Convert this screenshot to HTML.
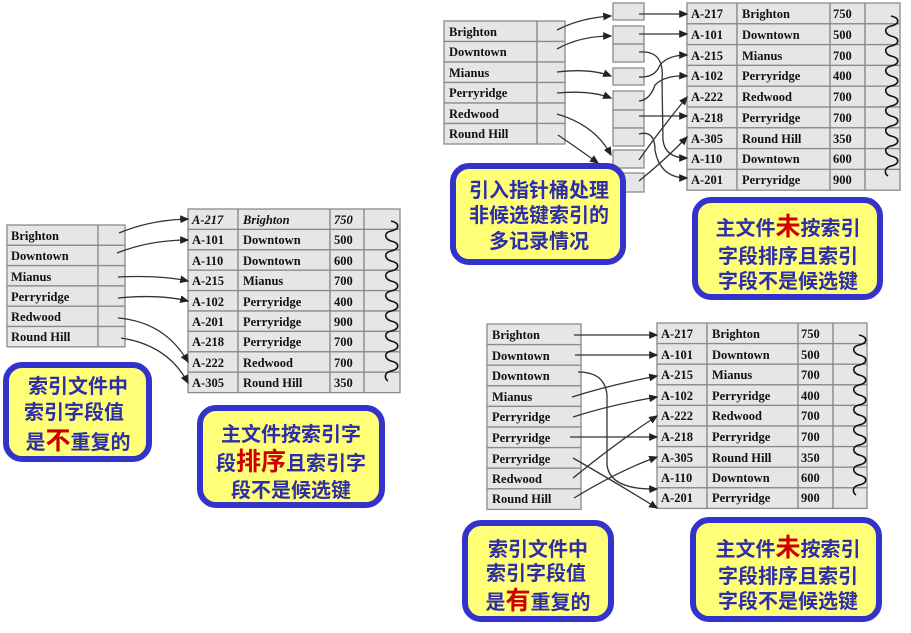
<!DOCTYPE html>
<html><head><meta charset="utf-8"><style>
html,body{margin:0;padding:0;background:#fff;}
svg{display:block;}
.t{font-family:"Liberation Serif",serif;font-weight:bold;font-size:12.5px;fill:#111;}
.c{font-family:"Liberation Sans","Noto Sans CJK SC",sans-serif;font-weight:bold;font-size:20px;fill:#2e2ea8;}
.r{fill:#cc0000;font-size:25px;}
.cell{fill:#e6e6e6;stroke:#8a8a8a;stroke-width:1.3;}
.ln{fill:none;stroke:#333;stroke-width:1.3;}
.w{fill:none;stroke:#111;stroke-width:1.6;}
</style></head><body>
<svg width="911" height="633" viewBox="0 0 911 633" xmlns="http://www.w3.org/2000/svg">
<defs><marker id="a" markerWidth="7" markerHeight="7" refX="6" refY="3.5" orient="auto"><path d="M0,0.5 L7,3.5 L0,6.5z" fill="#222"/></marker>
<path id="wv" class="w" d="M0,0 c9,2 9,8 0,10 c-8,2 -6,8 0,10 c9,2 9,8 0,10 c-8,2 -6,8 0,10 c9,2 9,8 0,10 c-8,2 -6,8 0,10 c9,2 9,8 0,10 c-8,2 -6,8 0,10 c9,2 9,8 0,10 c-8,2 -6,8 0,10 c9,2 9,8 0,10 c-8,2 -6,8 0,10 c9,2 9,8 0,10 c-8,2 -6,8 0,10 c9,2 9,8 0,10 c-8,2 -6,8 -3,10"/>
</defs>

<!-- ===== Diagram 1 ===== -->
<g>
<rect class="cell" x="7" y="225" width="91" height="20.3"/><rect class="cell" x="98" y="225" width="27" height="20.3"/>
<rect class="cell" x="7" y="245.3" width="91" height="20.3"/><rect class="cell" x="98" y="245.3" width="27" height="20.3"/>
<rect class="cell" x="7" y="265.6" width="91" height="20.3"/><rect class="cell" x="98" y="265.6" width="27" height="20.3"/>
<rect class="cell" x="7" y="285.9" width="91" height="20.3"/><rect class="cell" x="98" y="285.9" width="27" height="20.3"/>
<rect class="cell" x="7" y="306.2" width="91" height="20.3"/><rect class="cell" x="98" y="306.2" width="27" height="20.3"/>
<rect class="cell" x="7" y="326.5" width="91" height="20.3"/><rect class="cell" x="98" y="326.5" width="27" height="20.3"/>
<text class="t" x="11" y="240">Brighton</text><text class="t" x="11" y="260">Downtown</text><text class="t" x="11" y="281">Mianus</text>
<text class="t" x="11" y="301">Perryridge</text><text class="t" x="11" y="321">Redwood</text><text class="t" x="11" y="341">Round Hill</text>
</g>
<g>
<g transform="translate(188,209)">
<rect class="cell" x="0" y="0" width="50" height="20.4"/><rect class="cell" x="50" y="0" width="92" height="20.4"/><rect class="cell" x="142" y="0" width="34" height="20.4"/><rect class="cell" x="176" y="0" width="36" height="20.4"/>
<rect class="cell" x="0" y="20.4" width="50" height="20.4"/><rect class="cell" x="50" y="20.4" width="92" height="20.4"/><rect class="cell" x="142" y="20.4" width="34" height="20.4"/><rect class="cell" x="176" y="20.4" width="36" height="20.4"/>
<rect class="cell" x="0" y="40.8" width="50" height="20.4"/><rect class="cell" x="50" y="40.8" width="92" height="20.4"/><rect class="cell" x="142" y="40.8" width="34" height="20.4"/><rect class="cell" x="176" y="40.8" width="36" height="20.4"/>
<rect class="cell" x="0" y="61.2" width="50" height="20.4"/><rect class="cell" x="50" y="61.2" width="92" height="20.4"/><rect class="cell" x="142" y="61.2" width="34" height="20.4"/><rect class="cell" x="176" y="61.2" width="36" height="20.4"/>
<rect class="cell" x="0" y="81.6" width="50" height="20.4"/><rect class="cell" x="50" y="81.6" width="92" height="20.4"/><rect class="cell" x="142" y="81.6" width="34" height="20.4"/><rect class="cell" x="176" y="81.6" width="36" height="20.4"/>
<rect class="cell" x="0" y="102" width="50" height="20.4"/><rect class="cell" x="50" y="102" width="92" height="20.4"/><rect class="cell" x="142" y="102" width="34" height="20.4"/><rect class="cell" x="176" y="102" width="36" height="20.4"/>
<rect class="cell" x="0" y="122.4" width="50" height="20.4"/><rect class="cell" x="50" y="122.4" width="92" height="20.4"/><rect class="cell" x="142" y="122.4" width="34" height="20.4"/><rect class="cell" x="176" y="122.4" width="36" height="20.4"/>
<rect class="cell" x="0" y="142.8" width="50" height="20.4"/><rect class="cell" x="50" y="142.8" width="92" height="20.4"/><rect class="cell" x="142" y="142.8" width="34" height="20.4"/><rect class="cell" x="176" y="142.8" width="36" height="20.4"/>
<rect class="cell" x="0" y="163.2" width="50" height="20.4"/><rect class="cell" x="50" y="163.2" width="92" height="20.4"/><rect class="cell" x="142" y="163.2" width="34" height="20.4"/><rect class="cell" x="176" y="163.2" width="36" height="20.4"/>
<g class="t">
<text x="4" y="15" font-style="italic">A-217</text><text x="55" y="15" font-style="italic">Brighton</text><text x="146" y="15" font-style="italic">750</text>
<text x="4" y="35">A-101</text><text x="55" y="35">Downtown</text><text x="146" y="35">500</text>
<text x="4" y="56">A-110</text><text x="55" y="56">Downtown</text><text x="146" y="56">600</text>
<text x="4" y="76">A-215</text><text x="55" y="76">Mianus</text><text x="146" y="76">700</text>
<text x="4" y="97">A-102</text><text x="55" y="97">Perryridge</text><text x="146" y="97">400</text>
<text x="4" y="117">A-201</text><text x="55" y="117">Perryridge</text><text x="146" y="117">900</text>
<text x="4" y="137">A-218</text><text x="55" y="137">Perryridge</text><text x="146" y="137">700</text>
<text x="4" y="158">A-222</text><text x="55" y="158">Redwood</text><text x="146" y="158">700</text>
<text x="4" y="178">A-305</text><text x="55" y="178">Round Hill</text><text x="146" y="178">350</text>
</g>
<use href="#wv" x="203" y="12"/>
</g>
<path class="ln" marker-end="url(#a)" d="M119,233 Q150,220 188,219"/>
<path class="ln" marker-end="url(#a)" d="M117,253 Q150,240 188,240"/>
<path class="ln" marker-end="url(#a)" d="M118,277 Q160,275 188,281"/>
<path class="ln" marker-end="url(#a)" d="M118,298 Q160,294 188,301"/>
<path class="ln" marker-end="url(#a)" d="M118,318 Q165,322 188,362"/>
<path class="ln" marker-end="url(#a)" d="M121,338 Q168,345 188,383"/>
</g>
<rect x="6" y="365" width="143" height="94" rx="16" fill="#ffff77" stroke="#3333cc" stroke-width="6"/>
<text class="c" x="78" y="393" text-anchor="middle">索引文件中</text>
<text class="c" x="74" y="419" text-anchor="middle">索引字段值</text>
<text class="c" x="78" y="449" text-anchor="middle">是<tspan class="r">不</tspan>重复的</text>
<rect x="200" y="408" width="182" height="97" rx="16" fill="#ffff77" stroke="#3333cc" stroke-width="6"/>
<text class="c" x="291" y="441" text-anchor="middle">主文件按索引字</text>
<text class="c" x="291" y="470" text-anchor="middle">段<tspan class="r">排序</tspan>且索引字</text>
<text class="c" x="291" y="497" text-anchor="middle">段不是候选键</text>

<!-- ===== Diagram 2 ===== -->
<g>
<rect class="cell" x="444" y="21" width="93" height="20.5"/><rect class="cell" x="537" y="21" width="28" height="20.5"/>
<rect class="cell" x="444" y="41.5" width="93" height="20.5"/><rect class="cell" x="537" y="41.5" width="28" height="20.5"/>
<rect class="cell" x="444" y="62" width="93" height="20.5"/><rect class="cell" x="537" y="62" width="28" height="20.5"/>
<rect class="cell" x="444" y="82.5" width="93" height="20.5"/><rect class="cell" x="537" y="82.5" width="28" height="20.5"/>
<rect class="cell" x="444" y="103" width="93" height="20.5"/><rect class="cell" x="537" y="103" width="28" height="20.5"/>
<rect class="cell" x="444" y="123.5" width="93" height="20.5"/><rect class="cell" x="537" y="123.5" width="28" height="20.5"/>
<text class="t" x="449" y="36">Brighton</text><text class="t" x="449" y="56">Downtown</text><text class="t" x="449" y="77">Mianus</text>
<text class="t" x="449" y="97">Perryridge</text><text class="t" x="449" y="118">Redwood</text><text class="t" x="449" y="138">Round Hill</text>
<rect class="cell" x="613" y="3" width="31" height="17"/>
<rect class="cell" x="613" y="26" width="31" height="18"/><rect class="cell" x="613" y="44" width="31" height="18"/>
<rect class="cell" x="613" y="68" width="31" height="17"/>
<rect class="cell" x="613" y="91" width="31" height="19"/><rect class="cell" x="613" y="110" width="31" height="18"/><rect class="cell" x="613" y="128" width="31" height="18"/>
<rect class="cell" x="613" y="150" width="31" height="18"/>
<rect class="cell" x="613" y="173" width="31" height="19"/>
<g transform="translate(687,3)">
<rect class="cell" x="0" y="0" width="50" height="20.8"/><rect class="cell" x="50" y="0" width="93" height="20.8"/><rect class="cell" x="143" y="0" width="35" height="20.8"/><rect class="cell" x="178" y="0" width="35" height="20.8"/>
<rect class="cell" x="0" y="20.8" width="50" height="20.8"/><rect class="cell" x="50" y="20.8" width="93" height="20.8"/><rect class="cell" x="143" y="20.8" width="35" height="20.8"/><rect class="cell" x="178" y="20.8" width="35" height="20.8"/>
<rect class="cell" x="0" y="41.6" width="50" height="20.8"/><rect class="cell" x="50" y="41.6" width="93" height="20.8"/><rect class="cell" x="143" y="41.6" width="35" height="20.8"/><rect class="cell" x="178" y="41.6" width="35" height="20.8"/>
<rect class="cell" x="0" y="62.4" width="50" height="20.8"/><rect class="cell" x="50" y="62.4" width="93" height="20.8"/><rect class="cell" x="143" y="62.4" width="35" height="20.8"/><rect class="cell" x="178" y="62.4" width="35" height="20.8"/>
<rect class="cell" x="0" y="83.2" width="50" height="20.8"/><rect class="cell" x="50" y="83.2" width="93" height="20.8"/><rect class="cell" x="143" y="83.2" width="35" height="20.8"/><rect class="cell" x="178" y="83.2" width="35" height="20.8"/>
<rect class="cell" x="0" y="104" width="50" height="20.8"/><rect class="cell" x="50" y="104" width="93" height="20.8"/><rect class="cell" x="143" y="104" width="35" height="20.8"/><rect class="cell" x="178" y="104" width="35" height="20.8"/>
<rect class="cell" x="0" y="124.8" width="50" height="20.8"/><rect class="cell" x="50" y="124.8" width="93" height="20.8"/><rect class="cell" x="143" y="124.8" width="35" height="20.8"/><rect class="cell" x="178" y="124.8" width="35" height="20.8"/>
<rect class="cell" x="0" y="145.6" width="50" height="20.8"/><rect class="cell" x="50" y="145.6" width="93" height="20.8"/><rect class="cell" x="143" y="145.6" width="35" height="20.8"/><rect class="cell" x="178" y="145.6" width="35" height="20.8"/>
<rect class="cell" x="0" y="166.4" width="50" height="20.8"/><rect class="cell" x="50" y="166.4" width="93" height="20.8"/><rect class="cell" x="143" y="166.4" width="35" height="20.8"/><rect class="cell" x="178" y="166.4" width="35" height="20.8"/>
<g class="t">
<text x="4" y="15">A-217</text><text x="55" y="15">Brighton</text><text x="146" y="15">750</text>
<text x="4" y="36">A-101</text><text x="55" y="36">Downtown</text><text x="146" y="36">500</text>
<text x="4" y="57">A-215</text><text x="55" y="57">Mianus</text><text x="146" y="57">700</text>
<text x="4" y="77">A-102</text><text x="55" y="77">Perryridge</text><text x="146" y="77">400</text>
<text x="4" y="98">A-222</text><text x="55" y="98">Redwood</text><text x="146" y="98">700</text>
<text x="4" y="119">A-218</text><text x="55" y="119">Perryridge</text><text x="146" y="119">700</text>
<text x="4" y="140">A-305</text><text x="55" y="140">Round Hill</text><text x="146" y="140">350</text>
<text x="4" y="160">A-110</text><text x="55" y="160">Downtown</text><text x="146" y="160">600</text>
<text x="4" y="181">A-201</text><text x="55" y="181">Perryridge</text><text x="146" y="181">900</text>
</g>
<use href="#wv" x="204" y="13" transform="translate(0,0) scale(1,1)"/>
</g>
<path class="ln" marker-end="url(#a)" d="M557,30 Q580,18 611,16"/>
<path class="ln" marker-end="url(#a)" d="M557,49 Q580,36 611,36"/>
<path class="ln" marker-end="url(#a)" d="M557,72 Q590,68 611,76"/>
<path class="ln" marker-end="url(#a)" d="M557,93 Q590,90 611,98"/>
<path class="ln" marker-end="url(#a)" d="M557,114 Q595,125 611,155"/>
<path class="ln" marker-end="url(#a)" d="M558,135 Q580,150 598,163"/>
<path class="ln" stroke-width="1.8" marker-end="url(#a)" d="M639,14 L687,14"/>
<path class="ln" stroke-width="1.8" marker-end="url(#a)" d="M639,34 L687,34"/>
<path class="ln" marker-end="url(#a)" d="M639,52 Q665,50 662,80 L663,140 Q665,158 687,158"/>
<path class="ln" marker-end="url(#a)" d="M639,77 Q655,78 660,65 Q668,55 687,55"/>
<path class="ln" marker-end="url(#a)" d="M639,101 Q650,100 655,85 Q665,75 687,76"/>
<path class="ln" stroke-width="1.8" marker-end="url(#a)" d="M639,116 L687,116"/>
<path class="ln" marker-end="url(#a)" d="M639,134 Q655,130 655,150 Q660,178 687,178"/>
<path class="ln" marker-end="url(#a)" d="M639,160 Q660,130 687,97"/>
<path class="ln" marker-end="url(#a)" d="M639,181 Q665,160 687,137"/>
<rect x="453" y="166" width="170" height="96" rx="16" fill="#ffff77" stroke="#3333cc" stroke-width="6"/>
<text class="c" x="539" y="197" text-anchor="middle">引入指针桶处理</text>
<text class="c" x="539" y="222" text-anchor="middle">非候选键索引的</text>
<text class="c" x="539" y="248" text-anchor="middle">多记录情况</text>
<rect x="695" y="200" width="185" height="97" rx="16" fill="#ffff77" stroke="#3333cc" stroke-width="6"/>
<text class="c" x="788" y="235" text-anchor="middle">主文件<tspan class="r">未</tspan>按索引</text>
<text class="c" x="788" y="263" text-anchor="middle">字段排序且索引</text>
<text class="c" x="788" y="288" text-anchor="middle">字段不是候选键</text>
</g>

<!-- ===== Diagram 3 ===== -->
<g>
<g transform="translate(487,324)">
<rect class="cell" x="0" y="0" width="94" height="20.6"/><rect class="cell" x="0" y="20.6" width="94" height="20.6"/><rect class="cell" x="0" y="41.2" width="94" height="20.6"/>
<rect class="cell" x="0" y="61.8" width="94" height="20.6"/><rect class="cell" x="0" y="82.4" width="94" height="20.6"/><rect class="cell" x="0" y="103" width="94" height="20.6"/>
<rect class="cell" x="0" y="123.6" width="94" height="20.6"/><rect class="cell" x="0" y="144.2" width="94" height="20.6"/><rect class="cell" x="0" y="164.8" width="94" height="20.6"/>
<g class="t">
<text x="5" y="15">Brighton</text><text x="5" y="36">Downtown</text><text x="5" y="56">Downtown</text>
<text x="5" y="77">Mianus</text><text x="5" y="97">Perryridge</text><text x="5" y="118">Perryridge</text>
<text x="5" y="139">Perryridge</text><text x="5" y="159">Redwood</text><text x="5" y="179">Round Hill</text>
</g></g>
<g transform="translate(657,323)">
<rect class="cell" x="0" y="0" width="50" height="20.6"/><rect class="cell" x="50" y="0" width="91" height="20.6"/><rect class="cell" x="141" y="0" width="35" height="20.6"/><rect class="cell" x="176" y="0" width="34" height="20.6"/>
<rect class="cell" x="0" y="20.6" width="50" height="20.6"/><rect class="cell" x="50" y="20.6" width="91" height="20.6"/><rect class="cell" x="141" y="20.6" width="35" height="20.6"/><rect class="cell" x="176" y="20.6" width="34" height="20.6"/>
<rect class="cell" x="0" y="41.2" width="50" height="20.6"/><rect class="cell" x="50" y="41.2" width="91" height="20.6"/><rect class="cell" x="141" y="41.2" width="35" height="20.6"/><rect class="cell" x="176" y="41.2" width="34" height="20.6"/>
<rect class="cell" x="0" y="61.8" width="50" height="20.6"/><rect class="cell" x="50" y="61.8" width="91" height="20.6"/><rect class="cell" x="141" y="61.8" width="35" height="20.6"/><rect class="cell" x="176" y="61.8" width="34" height="20.6"/>
<rect class="cell" x="0" y="82.4" width="50" height="20.6"/><rect class="cell" x="50" y="82.4" width="91" height="20.6"/><rect class="cell" x="141" y="82.4" width="35" height="20.6"/><rect class="cell" x="176" y="82.4" width="34" height="20.6"/>
<rect class="cell" x="0" y="103" width="50" height="20.6"/><rect class="cell" x="50" y="103" width="91" height="20.6"/><rect class="cell" x="141" y="103" width="35" height="20.6"/><rect class="cell" x="176" y="103" width="34" height="20.6"/>
<rect class="cell" x="0" y="123.6" width="50" height="20.6"/><rect class="cell" x="50" y="123.6" width="91" height="20.6"/><rect class="cell" x="141" y="123.6" width="35" height="20.6"/><rect class="cell" x="176" y="123.6" width="34" height="20.6"/>
<rect class="cell" x="0" y="144.2" width="50" height="20.6"/><rect class="cell" x="50" y="144.2" width="91" height="20.6"/><rect class="cell" x="141" y="144.2" width="35" height="20.6"/><rect class="cell" x="176" y="144.2" width="34" height="20.6"/>
<rect class="cell" x="0" y="164.8" width="50" height="20.6"/><rect class="cell" x="50" y="164.8" width="91" height="20.6"/><rect class="cell" x="141" y="164.8" width="35" height="20.6"/><rect class="cell" x="176" y="164.8" width="34" height="20.6"/>
<g class="t">
<text x="4" y="15">A-217</text><text x="55" y="15">Brighton</text><text x="144" y="15">750</text>
<text x="4" y="36">A-101</text><text x="55" y="36">Downtown</text><text x="144" y="36">500</text>
<text x="4" y="56">A-215</text><text x="55" y="56">Mianus</text><text x="144" y="56">700</text>
<text x="4" y="77">A-102</text><text x="55" y="77">Perryridge</text><text x="144" y="77">400</text>
<text x="4" y="97">A-222</text><text x="55" y="97">Redwood</text><text x="144" y="97">700</text>
<text x="4" y="118">A-218</text><text x="55" y="118">Perryridge</text><text x="144" y="118">700</text>
<text x="4" y="139">A-305</text><text x="55" y="139">Round Hill</text><text x="144" y="139">350</text>
<text x="4" y="159">A-110</text><text x="55" y="159">Downtown</text><text x="144" y="159">600</text>
<text x="4" y="179">A-201</text><text x="55" y="179">Perryridge</text><text x="144" y="179">900</text>
</g>
<use href="#wv" x="202" y="12"/>
</g>
<path class="ln" stroke-width="2" marker-end="url(#a)" d="M574,335 L657,335"/>
<path class="ln" stroke-width="2" marker-end="url(#a)" d="M575,355 L657,355"/>
<path class="ln" marker-end="url(#a)" d="M578,372 Q605,372 607,395 L607,465 Q610,490 657,489"/>
<path class="ln" marker-end="url(#a)" d="M572,397 Q610,385 657,376"/>
<path class="ln" marker-end="url(#a)" d="M573,417 Q610,405 657,397"/>
<path class="ln" stroke-width="1.8" marker-end="url(#a)" d="M570,437 L657,437"/>
<path class="ln" marker-end="url(#a)" d="M573,458 Q620,485 657,508"/>
<path class="ln" marker-end="url(#a)" d="M573,478 Q620,440 657,416"/>
<path class="ln" marker-end="url(#a)" d="M574,498 Q620,470 657,457"/>
<rect x="465" y="523" width="146" height="96" rx="16" fill="#ffff77" stroke="#3333cc" stroke-width="6"/>
<text class="c" x="538" y="556" text-anchor="middle">索引文件中</text>
<text class="c" x="536" y="580" text-anchor="middle">索引字段值</text>
<text class="c" x="538" y="609" text-anchor="middle">是<tspan class="r">有</tspan>重复的</text>
<rect x="693" y="520" width="186" height="99" rx="16" fill="#ffff77" stroke="#3333cc" stroke-width="6"/>
<text class="c" x="788" y="556" text-anchor="middle">主文件<tspan class="r">未</tspan>按索引</text>
<text class="c" x="788" y="583" text-anchor="middle">字段排序且索引</text>
<text class="c" x="788" y="608" text-anchor="middle">字段不是候选键</text>
</g>
</svg>
</body></html>
